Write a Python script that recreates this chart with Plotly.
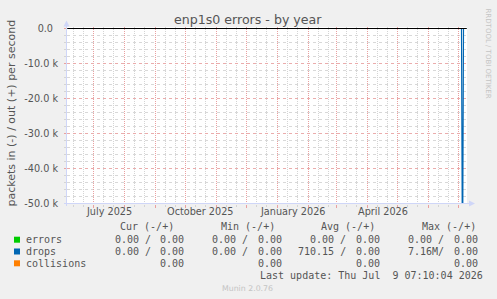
import plotly.graph_objects as go

# ---------------- data ----------------
dates = ["2025-06-05", "2026-07-04", "2026-07-05", "2026-07-06", "2026-07-09"]
errors_in = [0, 0, 0, 0, 0]
errors_out = [0, 0, 0, 0, 0]
drops_in = [0, 0, -72000, 0, 0]
drops_out = [0, 0, 0, 0, 0]
collisions = [0, 0, 0, 0, 0]

x_range = ["2025-06-04 12:00", "2026-07-09 12:00"]
y_range = [-50142.86, 428.57]

y_major = [0, -10000, -20000, -30000, -40000, -50000]
y_major_text = ["0.0\u00a0\u2009", "-10.0 k", "-20.0 k", "-30.0 k", "-40.0 k", "-50.0 k"]
y_minor = [-2000, -4000, -6000, -8000, -12000, -14000, -16000, -18000,
           -22000, -24000, -26000, -28000, -32000, -34000, -36000, -38000,
           -42000, -44000, -46000, -48000]

month_starts = ["2025-07-01", "2025-08-01", "2025-09-01", "2025-10-01", "2025-11-01",
                "2025-12-01", "2026-01-01", "2026-02-01", "2026-03-01", "2026-04-01",
                "2026-05-01", "2026-06-01", "2026-07-01"]
months = ["2025-06", "2025-07", "2025-08", "2025-09", "2025-10", "2025-11", "2025-12",
          "2026-01", "2026-02", "2026-03", "2026-04", "2026-05", "2026-06"]
minor_days = [m + d for m in months for d in ("-11", "-21")]

label_dates = ["2025-07-16", "2025-10-16", "2026-01-16", "2026-04-16"]
label_text = ["July 2025", "October 2025", "January 2026", "April 2026"]

legend_names = ["errors", "drops", "collisions"]
legend_colors = ["#00CC00", "#0066B3", "#FF8000"]
headers = ["Cur (-/+)", "Min (-/+)", "Avg (-/+)", "Max (-/+)"]
cols_in = [
    ["0.00 /", "0.00 /", "0.00 /", "0.00 /"],
    ["0.00 /", "0.00 /", "710.15 /", "7.16M/"],
    [None, None, None, None],
]
cols_out = [
    ["0.00", "0.00", "0.00", "0.00"],
    ["0.00", "0.00", "0.00", "0.00"],
    ["0.00", "0.00", "0.00", "0.00"],
]
last_update = "Last update: Thu Jul  9 07:10:04 2026"
title = "enp1s0 errors - by year"
y_title = "packets in (-) / out (+) per second"
watermark = "RRDTOOL / TOBI OETIKER"
version = "Munin 2.0.76"

# ---------------- layout helpers ----------------
W, H = 497, 299
L, R, T, B = 67, 30, 27, 95
PW, PH = W - L - R, H - T - B


def px(x):
    return (x - L) / PW


def py(y):
    return (H - B - y) / PH


FONT = "DejaVu Sans"
MONO = "DejaVu Sans Mono"
TXT = "#555555"
MGRID = "#E9A0A0"
GRID = "#D4D4D4"
HMGRID = "#EBACAC"
HGRID = "#D8D8D8"
AXIS = "#CFD6F8"
DASH = "1px,1px"

fig = go.Figure()
series = [
    (errors_in, "#00CC00"), (errors_out, "#00CC00"),
    (drops_out, "#0066B3"), (collisions, "#FF8000"),
    (drops_in, "#0066B3"),
]
for ys, c in series:
    fig.add_trace(go.Scatter(x=dates, y=ys, mode="lines",
                             line=dict(color=c, width=1.2), hoverinfo="skip"))

ann = []


def text(x, y, s, size=10, family=MONO, color=TXT, xanchor="left", angle=0):
    ann.append(dict(x=px(x), y=py(y), xref="paper", yref="paper", text=s.replace(" ", "\u00a0"),
                    showarrow=False, xanchor=xanchor, yanchor="middle", textangle=angle,
                    borderpad=0, borderwidth=0,
                    font=dict(family=family, size=size, color=color)))


text(248, 19.5, title, size=12.6, family=FONT, xanchor="center")
text(11, 113.5, y_title, size=11, family=FONT, xanchor="center", angle=-90)
text(488, 53.5, watermark, size=7, family=FONT, color="#C4C4C4", xanchor="center", angle=90)
for d, s in zip(label_dates, label_text):
    ann.append(dict(x=d, y=py(211.7), xref="x", yref="paper", text=s, showarrow=False,
                    xanchor="center", yanchor="middle", borderpad=0, borderwidth=0,
                    font=dict(family=FONT, size=9.7, color=TXT)))

head_x = [120.4, 221.1, 321.4, 422.4]
in_end = [150.5, 248.3, 346.3, 444.2]
out_end = [184.0, 281.8, 379.8, 477.7]
for hx, h in zip(head_x, headers):
    text(hx, 226.7, h)
row_y = [239.7, 251.5, 263.3]
shapes = []
for i, name in enumerate(legend_names):
    yy = row_y[i]
    text(25.5, yy, name)
    shapes.append(dict(type="rect", xref="paper", yref="paper",
                       x0=px(14), x1=px(20), y0=py(yy - 3), y1=py(yy + 3),
                       fillcolor=legend_colors[i], line=dict(width=0)))
    for j in range(4):
        if cols_in[i][j]:
            text(in_end[j], yy, cols_in[i][j], xanchor="right")
        text(out_end[j], yy, cols_out[i][j], xanchor="right")
text(483, 275.5, last_update, xanchor="right")
text(247.5, 288, version, size=7.8, family=FONT, color="#C4C4C4", xanchor="center")

# zero line
shapes.append(dict(type="line", xref="x", yref="y", x0=dates[0], x1=dates[-1], y0=0, y1=0,
                   line=dict(color="#000000", width=1), layer="above"))
# axes and arrows
shapes.append(dict(type="line", xref="paper", yref="paper", x0=px(66.5), x1=px(66.5),
                   y0=py(206), y1=py(24), line=dict(color=AXIS, width=1)))
shapes.append(dict(type="line", xref="paper", yref="paper", x0=px(64), x1=px(470),
                   y0=py(203.5), y1=py(203.5), line=dict(color=AXIS, width=1)))
shapes.append(dict(type="path", xref="paper", yref="paper",
                   path=f"M {px(63.5)} {py(26.5)} L {px(69.5)} {py(26.5)} L {px(66.5)} {py(20.5)} Z",
                   fillcolor=AXIS, line=dict(width=0)))
shapes.append(dict(type="path", xref="paper", yref="paper",
                   path=f"M {px(469)} {py(200.5)} L {px(469)} {py(206.5)} L {px(475)} {py(203.5)} Z",
                   fillcolor=AXIS, line=dict(width=0)))

fig.update_layout(
    width=W, height=H, margin=dict(l=L, r=R, t=T, b=B, pad=0),
    paper_bgcolor="#F0F0F0", plot_bgcolor="#FFFFFF", showlegend=False,
    annotations=ann, shapes=shapes,
    xaxis=dict(type="date", range=x_range, tickmode="array", tickvals=month_starts,
               showticklabels=False, ticks="outside", ticklen=3, tickcolor=MGRID,
               showgrid=True, gridcolor=MGRID, griddash=DASH, gridwidth=1,
               zeroline=False, showline=False, fixedrange=True,
               minor=dict(tickmode="array", tickvals=minor_days, ticks="outside", ticklen=2,
                          tickcolor=GRID, showgrid=True, gridcolor=GRID,
                          griddash=DASH, gridwidth=1)),
    yaxis=dict(range=y_range, tickmode="array", tickvals=y_major, ticktext=y_major_text,
               ticks="outside", ticklen=2, tickcolor=MGRID, ticklabelstandoff=4,
               tickfont=dict(family=FONT, size=9.7, color=TXT),
               showgrid=True, gridcolor=HMGRID, griddash="dot", gridwidth=1,
               zeroline=False, showline=False, fixedrange=True,
               minor=dict(tickmode="array", tickvals=y_minor, ticks="outside", ticklen=2,
                          tickcolor=GRID, showgrid=True, gridcolor=HGRID,
                          griddash="dot", gridwidth=1)),
)

fig.write_html("out.html", config=dict(displayModeBar=False))
